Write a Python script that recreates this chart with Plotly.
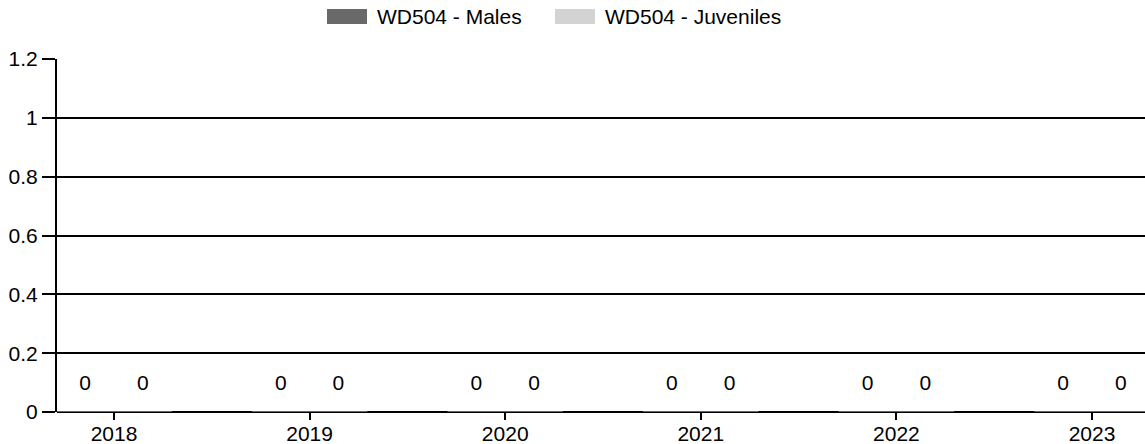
import plotly.graph_objects as go

years = ["2018", "2019", "2020", "2021", "2022", "2023"]
males = [0, 0, 0, 0, 0, 0]
juveniles = [0, 0, 0, 0, 0, 0]
series_names = ["WD504 - Males", "WD504 - Juveniles"]
series_colors = ["#696969", "#d3d3d3"]

FONT = "Liberation Sans, Arial, sans-serif"
FS = 21
BARGAP = 0.41
LABEL_OFFSET = 0.092  # label drawn a fixed distance above each bar top

W, H = 1145, 444
ML, MR, MT, MB = 57, 0, 59, 32
PW, PH = W - ML - MR, H - MT - MB


def px_x(p):
    return (p - ML) / PW


def px_y(p):
    return (H - MB - p) / PH


fig = go.Figure()
for name, vals, col in zip(series_names, [males, juveniles], series_colors):
    fig.add_trace(go.Bar(x=years, y=vals, name=name, marker_color=col,
                         showlegend=False, hoverinfo="x+y+name"))
for name, vals in zip(series_names, [males, juveniles]):
    fig.add_trace(go.Scatter(x=years, y=[v + LABEL_OFFSET for v in vals],
                             mode="text", text=[str(v) for v in vals],
                             textposition="middle center",
                             textfont=dict(family=FONT, size=FS, color="black"),
                             showlegend=False, hoverinfo="skip", name=name))

# legend (drawn as swatches + text at the top)
legend_swatch_left = [327, 555]
SW_W, SW_TOP, SW_BOT, TXT_GAP, LEG_Y = 40, 9, 24, 9, 17
shapes, annotations = [], []
for name, col, x0 in zip(series_names, series_colors, legend_swatch_left):
    shapes.append(dict(type="rect", xref="paper", yref="paper",
                       x0=px_x(x0), x1=px_x(x0 + SW_W),
                       y0=px_y(SW_BOT), y1=px_y(SW_TOP),
                       fillcolor=col, line=dict(width=0)))
    annotations.append(dict(xref="paper", yref="paper", x=px_x(x0 + SW_W + TXT_GAP),
                            y=px_y(LEG_Y), xanchor="left", yanchor="middle",
                            text=name, showarrow=False, borderpad=0,
                            font=dict(family=FONT, size=FS, color="black")))

fig.update_layout(
    width=W, height=H,
    margin=dict(l=ML, r=MR, t=MT, b=MB, autoexpand=False),
    paper_bgcolor="white", plot_bgcolor="white",
    barmode="group", bargap=BARGAP,
    scattermode="group", scattergap=BARGAP,
    font=dict(family=FONT, size=FS, color="black"),
    showlegend=False,
    shapes=shapes, annotations=annotations,
    xaxis=dict(type="category", range=[-0.2914, 5.271], showgrid=False,
               ticks="outside", ticklen=7, tickcolor="black", tickwidth=1.5,
               ticklabelstandoff=-4,
               showline=False, zeroline=False, automargin=False,
               tickfont=dict(family=FONT, size=FS, color="black")),
    yaxis=dict(range=[0, 1.2], dtick=0.2, tick0=0, showgrid=True,
               gridcolor="black", gridwidth=1.5, zeroline=True,
               zerolinecolor="black", zerolinewidth=1.5,
               showline=True, linecolor="black", linewidth=2,
               ticks="outside", ticklen=13, tickcolor="black", tickwidth=1.5,
               automargin=False,
               tickfont=dict(family=FONT, size=FS, color="black")),
)

fig.write_html("out.html", config={"displayModeBar": False},
               post_script="document.body.style.margin='0';document.body.style.overflow='hidden';")
